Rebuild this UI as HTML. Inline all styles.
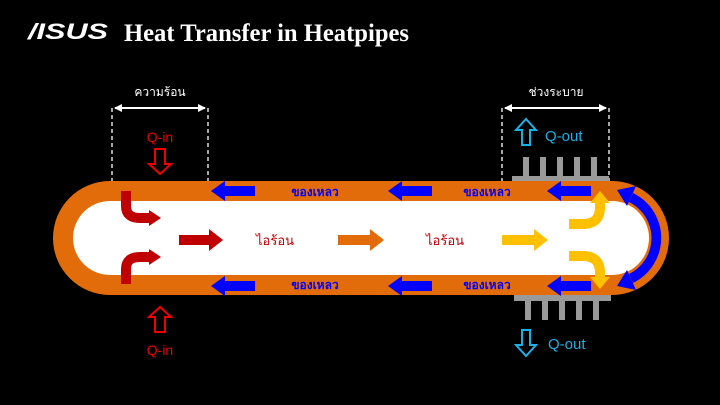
<!DOCTYPE html>
<html><head><meta charset="utf-8"><style>
html,body{margin:0;padding:0;background:#000;width:720px;height:405px;overflow:hidden}
svg{display:block}
.th{font-family:"Liberation Sans","DejaVu Sans",sans-serif}
</style></head><body>
<svg width="720" height="405" viewBox="0 0 720 405" xmlns="http://www.w3.org/2000/svg">
<defs>
<marker id="ah" markerWidth="8" markerHeight="8" refX="7" refY="4" orient="auto" markerUnits="userSpaceOnUse"><path d="M0,0 L8,4 L0,8 Z" fill="#fff"/></marker>
</defs>
<rect width="720" height="405" fill="#000"/>
<!-- title -->
<text x="28" y="39" font-family="Liberation Sans,sans-serif" font-weight="bold" font-style="italic" font-size="22" fill="#fff" textLength="80" lengthAdjust="spacingAndGlyphs">/ISUS</text>
<text x="124" y="41" font-family="Liberation Serif,serif" font-weight="bold" font-size="25" fill="#fff" textLength="285" lengthAdjust="spacingAndGlyphs">Heat Transfer in Heatpipes</text>

<!-- dimension lines -->
<g stroke="#fff" stroke-width="1.3" stroke-dasharray="4,3" fill="none">
<line x1="112" y1="108" x2="112" y2="181"/><line x1="208" y1="108" x2="208" y2="181"/>
<line x1="502" y1="108" x2="502" y2="181"/><line x1="609" y1="108" x2="609" y2="181"/>
</g>
<g stroke="#fff" stroke-width="2" fill="none">
<line x1="115" y1="108" x2="205" y2="108" marker-end="url(#ah)"/><line x1="205" y1="108" x2="115" y2="108" marker-end="url(#ah)"/>
<line x1="505" y1="108" x2="606" y2="108" marker-end="url(#ah)"/><line x1="606" y1="108" x2="505" y2="108" marker-end="url(#ah)"/>
</g>
<text x="160" y="96" text-anchor="middle" class="th" font-size="12" fill="#fff">ความร้อน</text>
<text x="556" y="96" text-anchor="middle" class="th" font-size="12" fill="#fff">ช่วงระบาย</text>

<!-- Q-in / Q-out -->
<text x="160" y="142" text-anchor="middle" font-family="Liberation Sans,sans-serif" font-size="14" fill="#e00">Q-in</text>
<path d="M155,149 h10 v15 h6 l-11,10 l-11,-10 h6 z" fill="none" stroke="#e00" stroke-width="2"/>
<path d="M155,332 h10 v-15 h6 l-11,-10 l-11,10 h6 z" fill="none" stroke="#e00" stroke-width="2"/>
<text x="160" y="355" text-anchor="middle" font-family="Liberation Sans,sans-serif" font-size="14" fill="#e00">Q-in</text>
<path d="M522,145 h8 v-15 h6 l-10,-11 l-10,11 h6 z" fill="none" stroke="#1ab0e8" stroke-width="2"/>
<text x="545" y="141" font-family="Liberation Sans,sans-serif" font-size="15" fill="#1ab0e8">Q-out</text>
<path d="M522,330 h8 v15 h6 l-10,11 l-10,-11 h6 z" fill="none" stroke="#1ab0e8" stroke-width="2"/>
<text x="548" y="349" font-family="Liberation Sans,sans-serif" font-size="15" fill="#1ab0e8">Q-out</text>

<!-- heatsinks -->
<g fill="#999">
<rect x="512" y="176" width="97" height="6"/>
<rect x="523" y="157" width="6" height="20"/><rect x="540" y="157" width="6" height="20"/><rect x="557" y="157" width="6" height="20"/><rect x="574" y="157" width="6" height="20"/><rect x="591" y="157" width="6" height="20"/>
<rect x="514" y="295" width="97" height="6"/>
<rect x="525" y="300" width="6" height="20"/><rect x="542" y="300" width="6" height="20"/><rect x="559" y="300" width="6" height="20"/><rect x="576" y="300" width="6" height="20"/><rect x="593" y="300" width="6" height="20"/>
</g>

<!-- pipe -->
<rect x="53" y="181" width="616" height="114" rx="57" fill="#e36c0a"/>
<rect x="73" y="201" width="576" height="74" rx="37" fill="#fff"/>

<!-- blue arrows -->
<g fill="#0000ff">
<path d="M255,186 v10 h-30 v5 l-14,-10 l14,-10 v5 z"/>
<path d="M432,186 v10 h-30 v5 l-14,-10 l14,-10 v5 z"/>
<path d="M591,186 v10 h-30 v5 l-14,-10 l14,-10 v5 z"/>
<path d="M255,281 v10 h-30 v5 l-14,-10 l14,-10 v5 z"/>
<path d="M432,281 v10 h-30 v5 l-14,-10 l14,-10 v5 z"/>
<path d="M591,281 v10 h-30 v5 l-14,-10 l14,-10 v5 z"/>
<path d="M633,193 A50,50 0 0 1 633,283 L629,274 A40,40 0 0 0 629,202 Z"/>
<path d="M617,190 L636,186 L627,206 Z"/>
<path d="M617,286 L636,290 L627,270 Z"/>
</g>
<text x="315" y="196" text-anchor="middle" class="th" font-size="12" font-weight="bold" fill="#0000ff">ของเหลว</text>
<text x="487" y="196" text-anchor="middle" class="th" font-size="12" font-weight="bold" fill="#0000ff">ของเหลว</text>
<text x="315" y="289" text-anchor="middle" class="th" font-size="12" font-weight="bold" fill="#0000ff">ของเหลว</text>
<text x="487" y="289" text-anchor="middle" class="th" font-size="12" font-weight="bold" fill="#0000ff">ของเหลว</text>

<!-- red arrows -->
<g fill="none" stroke="#c00000" stroke-width="10">
<path d="M126,191 v15 q0,12 14,12 h10"/>
<path d="M126,284 v-15 q0,-12 14,-12 h10"/>
</g>
<g fill="#c00000">
<path d="M149,210 l12,8 l-12,8 z"/><path d="M149,249 l12,8 l-12,8 z"/>
<path d="M179,235 h30 v-6 l14,11 l-14,11 v-6 h-30 z"/>
</g>
<text x="275" y="245" text-anchor="middle" class="th" font-size="13" fill="#c00000">ไอร้อน</text>
<path d="M338,235 h32 v-6 l14,11 l-14,11 v-6 h-32 z" fill="#e36c0a"/>
<text x="445" y="245" text-anchor="middle" class="th" font-size="13" fill="#c00000">ไอร้อน</text>
<path d="M502,235 h32 v-6 l14,11 l-14,11 v-6 h-32 z" fill="#ffc000"/>

<!-- yellow -->
<g fill="none" stroke="#ffc000" stroke-width="10">
<path d="M569,224 h14 q17,0 17,-17 v-6"/>
<path d="M569,256 h14 q17,0 17,17 v6"/>
</g>
<g fill="#ffc000">
<path d="M590,203 l10,-12 l10,12 z"/><path d="M590,277 l10,12 l10,-12 z"/>
</g>
</svg>
</body></html>
